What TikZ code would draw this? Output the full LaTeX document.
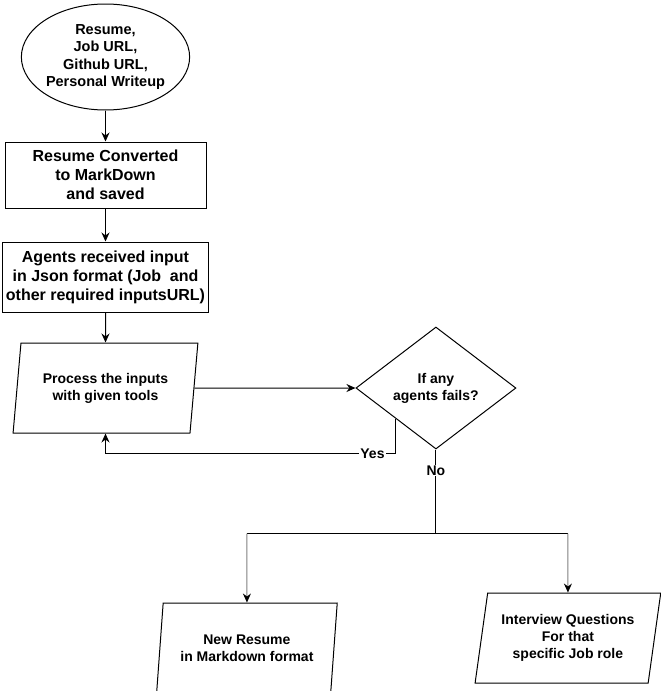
\documentclass[tikz,border=0pt]{standalone}
\usepackage{fontspec}
\setmainfont{Liberation Sans}
\usetikzlibrary{positioning,shapes.geometric,arrows.meta,calc}

\begin{document}
\begin{tikzpicture}[
    line width=1pt,
    >={Stealth[length=9pt,width=8pt,inset=3pt]},
    big/.style={font=\fontsize{16}{19}\selectfont\bfseries, align=center},
    small/.style={font=\fontsize{14}{17}\selectfont\bfseries, align=center},
    box/.style={draw, big, inner sep=0pt},
    para/.style={draw, small, trapezium, trapezium stretches=true,
      trapezium left angle=79, trapezium right angle=101, inner sep=0pt},
    lbl/.style={fill=white, small, inner sep=1pt},
    grayline/.style={draw=gray, ->, >={Stealth[length=9pt,width=8pt,inset=3pt,color=black]}},
  ]
  \useasboundingbox (0,0) rectangle (661pt,-691pt);

  \node[draw, ellipse, minimum width=160pt, minimum height=106pt, inner sep=0pt,
    font=\fontsize{14.5}{17.5}\selectfont\bfseries, align=center]
    (start) at (105.5pt,-57pt) {Resume,\\Job URL,\\Github URL,\\Personal Writeup};
  \node[box, minimum width=201pt, minimum height=66pt, below=31pt of start] (conv)
    {Resume Converted\\ to MarkDown\\and saved};
  \node[box, minimum width=206pt, minimum height=70pt, below=33pt of conv] (agents)
    {Agents received input\\in Json format (Job\ \ and\\other required inputsURL)};
  \node[para, minimum width=185pt, minimum height=90pt, below=30pt of agents] (proc)
    {Process the inputs\\with given tools};
  \node[draw, diamond, small, minimum width=160pt, minimum height=122pt, inner sep=0pt,
    right=161pt of proc] (dec) {If any\\agents fails?};
  \coordinate[below=84pt of dec] (split);
  \node[para, minimum width=181pt, minimum height=90pt, below=69pt of split,
    xshift=-189pt] (out1) {New Resume\\in Markdown format};
  \node[para, minimum width=186pt, minimum height=90pt, trapezium left angle=77.5,
    trapezium right angle=102.5, below=59pt of split, xshift=132pt] (out2)
    {Interview Questions\\For that\\ specific Job role};

  \draw[->] (start) -- (conv);
  \draw[->] (conv) -- (agents);
  \draw[->] (agents) -- (proc);
  \draw[->] (proc) -- (dec);
  \draw[->] ($(dec.west)!0.5!(dec.south)$) -- ++(0,-34.5pt)
    -| node[lbl, pos=0.04] {Yes} (proc);
  \draw (dec) -- node[lbl, pos=0.25] {No} (split);
  \draw (split -| out1) -- (split -| out2);
  \draw[grayline] (split -| out1) -- (out1);
  \draw[grayline] (split -| out2) -- (out2);
\end{tikzpicture}
\end{document}
